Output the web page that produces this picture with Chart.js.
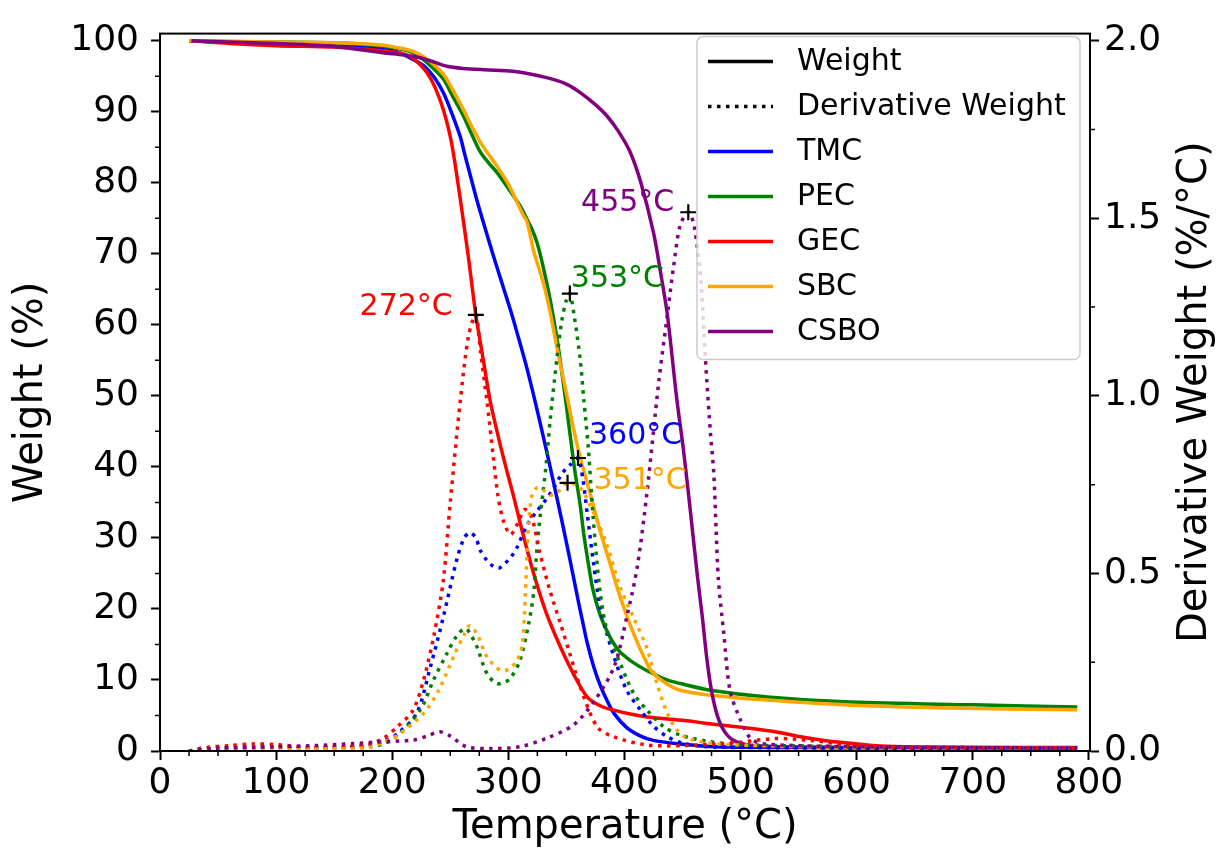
<!DOCTYPE html>
<html>
<head>
<meta charset="utf-8">
<script src="https://cdn.jsdelivr.net/npm/chart.js@4.4.0/dist/chart.umd.min.js"></script>
<style>html,body{margin:0;padding:0;background:#fff}canvas{display:block}</style>
</head>
<body>
<canvas id="c" width="1222" height="855"></canvas>
<script>
// ---------- DATA ----------
const seriesNames = ['TMC', 'PEC', 'GEC', 'SBC', 'CSBO'];
const seriesColors = ['#0000ff', '#008000', '#ff0000', '#ffa500', '#800080'];
const legendExtraLabels = ['Weight', 'Derivative Weight'];

// Weight (%) vs temperature (°C)
const tmcWT = [25, 60, 100, 150, 190, 205, 215, 227, 236, 244, 252, 258.6, 262, 267, 272, 276, 282, 287, 292, 296, 302, 307.5, 316, 324.7, 333, 339, 346, 353, 360, 364, 368, 373.5, 379, 385, 391, 402, 414, 425, 448, 480, 550, 650, 790];
const tmcW  = [100, 99.8, 99.6, 99.4, 98.9, 98.4, 97.6, 96.5, 94.9, 92.7, 89.5, 86.5, 84.3, 81.2, 78.1, 75.8, 72.5, 69.8, 67.2, 65.1, 62.0, 58.9, 53.9, 48.1, 42.2, 37.8, 32.5, 27.0, 21.3, 18.2, 15.2, 11.9, 9.3, 7.1, 5.3, 3.3, 2.1, 1.5, 1.0, 0.6, 0.5, 0.45, 0.45];

const pecWT = [25, 60, 100, 150, 190, 205, 218, 230, 244, 252, 261, 268, 276, 283, 290, 300, 310, 316, 320, 324.7, 330, 336, 342, 346, 350, 353, 357, 362, 365, 369, 373, 379, 385, 390.5, 396.5, 408, 419.5, 436.8, 448, 474, 523, 595, 700, 790];
const pecW  = [100, 99.9, 99.8, 99.7, 99.3, 98.9, 98.3, 96.9, 94.6, 92.2, 89.5, 87.0, 84.3, 82.8, 81.5, 79.2, 76.8, 74.9, 73.6, 71.6, 68.2, 63.6, 58.0, 53.4, 48.6, 44.8, 39.8, 34.5, 30.5, 26.3, 22.6, 19.2, 16.9, 15.2, 13.9, 12.4, 11.3, 10.0, 9.5, 8.55, 7.6, 6.9, 6.5, 6.2];

const gecWT = [25, 60, 100, 150, 190, 205, 215, 223, 230, 237, 244, 251, 258.6, 265.8, 272, 278, 284.5, 292, 298, 304, 313, 322, 333, 345, 356, 368, 380, 391, 405, 419.5, 448, 483, 508, 530, 552, 575, 595, 620, 650, 700, 790];
const gecW  = [100, 99.6, 99.3, 99.1, 98.6, 98.3, 97.8, 96.8, 95.5, 93.4, 90.3, 85.7, 77.7, 69.3, 61.4, 55.5, 49.2, 43.8, 39.9, 36.2, 30.3, 24.9, 19.3, 14.6, 10.9, 7.6, 6.3, 5.75, 5.2, 4.8, 4.35, 3.65, 3.2, 2.7, 2.0, 1.4, 1.1, 0.7, 0.55, 0.5, 0.45];

const sbcWT = [25, 60, 100, 150, 190, 205, 218, 230, 244, 252, 261, 268, 276, 283, 290, 300, 313, 316, 322, 330, 336, 342, 349, 356, 362, 370.7, 379, 388, 396.5, 408, 419.5, 425, 436, 448, 474, 520, 595, 700, 790];
const sbcW  = [100, 99.9, 99.8, 99.7, 99.4, 99.0, 98.5, 97.4, 95.3, 93.1, 90.4, 88.1, 85.7, 84.0, 82.4, 79.8, 75.4, 74.6, 70.3, 66, 61.8, 56.7, 51.2, 45.5, 41.3, 36.1, 31, 26.2, 21.6, 16.5, 12.3, 10.9, 9.5, 8.55, 7.85, 7.2, 6.45, 6.0, 5.8];

const csboWT = [27, 60, 100, 150, 192, 210, 224, 236, 247, 261, 280, 304, 333, 350, 362, 375, 385, 395, 405, 414, 425, 431, 437, 445, 451, 457, 462.6, 467, 471, 475, 480, 486, 494, 508.6, 550, 650, 790];
const csboW  = [100, 99.8, 99.6, 99.2, 98.3, 98.0, 97.6, 97.0, 96.4, 96.1, 95.9, 95.7, 94.8, 93.9, 92.7, 91.0, 89.4, 87.2, 84.3, 80.1, 73.0, 67.5, 61.4, 49.7, 42.2, 33.5, 25.0, 19.0, 13.0, 8.5, 5.0, 2.8, 1.5, 0.8, 0.55, 0.5, 0.5];

// Derivative weight (%/°C) vs temperature (°C)
const tmcDT = [25, 50, 100, 150, 180, 192.5, 205, 221, 232.8, 244, 255.7, 262, 267, 272, 276, 282, 287, 292, 296, 302, 307.5, 316, 324.7, 333, 339, 346, 353, 360, 364, 368, 373.5, 379, 385, 391, 402, 414, 425, 437, 450, 470, 500, 600, 790];
const tmcD  = [0.0, 0.008, 0.01, 0.008, 0.015, 0.027, 0.05, 0.106, 0.236, 0.377, 0.54, 0.6, 0.615, 0.6, 0.564, 0.535, 0.52, 0.515, 0.525, 0.545, 0.573, 0.635, 0.676, 0.71, 0.74, 0.78, 0.805, 0.825, 0.77, 0.667, 0.526, 0.405, 0.33, 0.265, 0.171, 0.115, 0.07, 0.04, 0.022, 0.012, 0.01, 0.008, 0.006];

const pecDT = [25, 50, 100, 150, 180, 192.5, 205, 224, 235.6, 247, 255.7, 263, 268, 273, 281.6, 290, 296, 301.7, 310, 317.5, 322, 324.7, 327.6, 330, 333, 336, 342, 346, 350, 353, 357, 362, 365, 369, 373, 379, 385, 396.5, 408, 419.5, 434, 448, 474, 500, 600, 790];
const pecD  = [0.0, 0.008, 0.012, 0.01, 0.012, 0.02, 0.045, 0.115, 0.2, 0.274, 0.325, 0.345, 0.325, 0.293, 0.218, 0.19, 0.193, 0.204, 0.255, 0.358, 0.45, 0.573, 0.667, 0.73, 0.82, 0.93, 1.11, 1.21, 1.27, 1.288, 1.22, 1.1, 0.99, 0.85, 0.66, 0.45, 0.34, 0.246, 0.162, 0.115, 0.068, 0.045, 0.026, 0.018, 0.012, 0.008];

const gecDT = [25, 40, 60, 80, 100, 130, 160, 180, 192.5, 205, 218, 227, 235.6, 244, 250, 258.6, 265.8, 272, 276, 281.6, 287, 291, 296, 302, 308, 314, 320, 327, 336, 345, 353, 362, 376.5, 390.8, 419.5, 450, 480, 500, 530, 560, 600, 650, 790];
const gecD  = [0.0, 0.01, 0.015, 0.02, 0.018, 0.01, 0.012, 0.02, 0.036, 0.07, 0.115, 0.2, 0.32, 0.48, 0.7, 0.985, 1.17, 1.228, 1.125, 0.985, 0.83, 0.72, 0.645, 0.61, 0.64, 0.68, 0.66, 0.56, 0.45, 0.358, 0.274, 0.18, 0.068, 0.04, 0.017, 0.015, 0.02, 0.025, 0.035, 0.03, 0.015, 0.01, 0.008];

const sbcDT = [25, 50, 100, 150, 180, 192.5, 205, 227, 240, 254, 261.5, 266.7, 273, 281.6, 293, 300, 307.5, 312, 314.7, 316, 317.5, 320.4, 325, 330, 336, 343, 351, 362, 373.6, 385, 396.5, 408, 419.5, 428, 437, 445, 455, 480, 520, 600, 790];
const sbcD  = [0.0, 0.005, 0.008, 0.006, 0.01, 0.025, 0.045, 0.106, 0.171, 0.274, 0.325, 0.353, 0.33, 0.265, 0.227, 0.23, 0.255, 0.3, 0.44, 0.55, 0.64, 0.72, 0.742, 0.735, 0.72, 0.73, 0.755, 0.74, 0.67, 0.58, 0.46, 0.375, 0.288, 0.19, 0.106, 0.06, 0.035, 0.02, 0.015, 0.01, 0.008];

const csboDT = [25, 50, 80, 100, 132, 166, 192, 218, 230, 241, 250, 264, 284.5, 310, 333, 356, 373.5, 391, 402, 411, 419.5, 429.6, 437, 442.5, 448, 455, 460, 466, 468.4, 471, 474, 477, 479, 481, 485.6, 491, 500, 508.6, 520, 600, 790];
const csboD  = [0.0, 0.008, 0.01, 0.012, 0.015, 0.021, 0.026, 0.031, 0.042, 0.054, 0.042, 0.012, 0.007, 0.012, 0.036, 0.073, 0.138, 0.236, 0.377, 0.517, 0.73, 1.04, 1.228, 1.368, 1.48, 1.517, 1.48, 1.32, 1.18, 1.04, 0.9, 0.78, 0.62, 0.48, 0.33, 0.17, 0.087, 0.036, 0.02, 0.012, 0.008];

// Peak markers (derivative maxima)
const peakTemps  = [360, 353, 272, 351, 455];
const peakDeriv  = [0.825, 1.288, 1.228, 0.755, 1.517];
const peakLabels = ['360°C', '353°C', '272°C', '351°C', '455°C'];

// Axis ticks
const xTicks = [0, 100, 200, 300, 400, 500, 600, 700, 800];
const yTicks = [0, 10, 20, 30, 40, 50, 60, 70, 80, 90, 100];
const y2Ticks = [0, 0.5, 1.0, 1.5, 2.0];
const y2TickLabels = ['0.0', '0.5', '1.0', '1.5', '2.0'];

// ---------- STYLE ----------
const FONT = "'DejaVu Sans', sans-serif";
const LW = 3.5;
const DOTS = [3.5, 5.5];
const labelPlacement = [
  {dx: 11, dy: -14, align: 'left'},
  {dx: 1, dy: -7, align: 'left'},
  {dx: -23, dy: 0, align: 'right'},
  {dx: 26, dy: 6, align: 'left'},
  {dx: -14, dy: -1, align: 'right'}
];

const weightT = [tmcWT, pecWT, gecWT, sbcWT, csboWT];
const weightV = [tmcW, pecW, gecW, sbcW, csboW];
const derivT = [tmcDT, pecDT, gecDT, sbcDT, csboDT];
const derivV = [tmcD, pecD, gecD, sbcD, csboD];
const pts = (T, V) => T.map((t, i) => ({x: t, y: V[i]}));

const datasets = [];
seriesNames.forEach((n, i) => {
  datasets.push({
    label: n + ' Weight', data: pts(weightT[i], weightV[i]), yAxisID: 'y',
    borderColor: seriesColors[i], borderWidth: LW, pointRadius: 0, fill: false,
    tension: 0.3, borderJoinStyle: 'round', order: 100 - i
  });
});
seriesNames.forEach((n, i) => {
  datasets.push({
    label: n + ' Derivative Weight', data: pts(derivT[i], derivV[i]), yAxisID: 'y2',
    borderColor: seriesColors[i], borderWidth: LW, borderDash: DOTS, borderCapStyle: 'butt',
    pointRadius: 0, fill: false, tension: 0.3, order: 50 - i
  });
});
datasets.push({
  type: 'scatter', label: 'Peaks', yAxisID: 'y2',
  data: pts(peakTemps, peakDeriv),
  pointStyle: 'cross', pointRadius: 8, borderColor: '#000', borderWidth: 2.2, order: 0
});

function minorTicks(ctx, scale, from, to, step, skip, orient, ca) {
  ctx.beginPath();
  for (let v = from; v <= to + 1e-9; v += step) {
    if (Math.abs(v / skip - Math.round(v / skip)) < 1e-6) continue;
    const p = scale.getPixelForValue(v);
    if (orient === 'bottom') { ctx.moveTo(p, ca.bottom); ctx.lineTo(p, ca.bottom + 5); }
    else if (orient === 'left') { ctx.moveTo(ca.left, p); ctx.lineTo(ca.left - 5, p); }
    else { ctx.moveTo(ca.right, p); ctx.lineTo(ca.right + 5, p); }
  }
  ctx.stroke();
}

function roundRect(ctx, x, y, w, h, r) {
  ctx.beginPath();
  ctx.moveTo(x + r, y);
  ctx.lineTo(x + w - r, y); ctx.arcTo(x + w, y, x + w, y + r, r);
  ctx.lineTo(x + w, y + h - r); ctx.arcTo(x + w, y + h, x + w - r, y + h, r);
  ctx.lineTo(x + r, y + h); ctx.arcTo(x, y + h, x, y + h - r, r);
  ctx.lineTo(x, y + r); ctx.arcTo(x, y, x + r, y, r);
  ctx.closePath();
}

const decorPlugin = {
  id: 'decor',
  afterDraw(chart) {
    const {ctx, chartArea: ca, scales} = chart;
    ctx.save();
    // frame
    ctx.strokeStyle = '#000'; ctx.lineWidth = 2;
    ctx.strokeRect(ca.left, ca.top, ca.right - ca.left, ca.bottom - ca.top);
    // minor ticks
    ctx.lineWidth = 1.5;
    minorTicks(ctx, scales.x, 0, 800, 25, 100, 'bottom', ca);
    minorTicks(ctx, scales.y, 0, 100, 5, 10, 'left', ca);
    minorTicks(ctx, scales.y2, 0, 2, 0.25, 0.5, 'right', ca);
    // right axis title (reads bottom to top)
    ctx.fillStyle = '#000';
    ctx.font = '40px ' + FONT;
    ctx.textAlign = 'center'; ctx.textBaseline = 'middle';
    ctx.translate(1196, (ca.top + ca.bottom) / 2);
    ctx.rotate(-Math.PI / 2);
    ctx.fillText('Derivative Weight (%/°C)', 0, 0);
    ctx.restore();

    // peak annotations
    ctx.save();
    ctx.font = '30px ' + FONT;
    ctx.textBaseline = 'alphabetic';
    peakLabels.forEach((lab, i) => {
      const px = scales.x.getPixelForValue(peakTemps[i]);
      const py = scales.y2.getPixelForValue(peakDeriv[i]);
      const pl = labelPlacement[i];
      ctx.fillStyle = seriesColors[i];
      ctx.textAlign = pl.align;
      ctx.fillText(lab, px + pl.dx, py + pl.dy);
    });
    ctx.restore();

    // legend
    ctx.save();
    const bw = 383, bh = 323;
    const bx = ca.right - 10 - bw, by = ca.top + 3;
    roundRect(ctx, bx, by, bw, bh, 6);
    ctx.fillStyle = 'rgba(255,255,255,0.8)'; ctx.fill();
    ctx.strokeStyle = '#cccccc'; ctx.lineWidth = 1.5; ctx.stroke();
    const items = [
      {label: legendExtraLabels[0], color: '#000', dash: []},
      {label: legendExtraLabels[1], color: '#000', dash: DOTS}
    ].concat(seriesNames.map((n, i) => ({label: n, color: seriesColors[i], dash: []})));
    ctx.font = '30px ' + FONT;
    ctx.textAlign = 'left'; ctx.textBaseline = 'middle';
    items.forEach((it, k) => {
      const y = by + 25 + k * 45;
      ctx.beginPath();
      ctx.setLineDash(it.dash);
      ctx.lineCap = 'butt';
      ctx.strokeStyle = it.color; ctx.lineWidth = LW;
      ctx.moveTo(bx + 11, y); ctx.lineTo(bx + 76, y); ctx.stroke();
      ctx.setLineDash([]);
      ctx.fillStyle = '#000';
      ctx.fillText(it.label, bx + 100, y + 1);
    });
    ctx.restore();
  }
};

const tickFont = {family: FONT, size: 36};
const gridCfg = {drawOnChartArea: false, drawTicks: true, tickLength: 9, tickWidth: 2, tickColor: '#000'};
const borderCfg = {display: true, color: '#000', width: 2};

new Chart(document.getElementById('c'), {
  type: 'line',
  data: {datasets},
  options: {
    responsive: false,
    animation: false,
    devicePixelRatio: 1,
    layout: {padding: {top: 32, left: 0, right: 0, bottom: 0}},
    plugins: {legend: {display: false}, tooltip: {enabled: false}},
    scales: {
      x: {
        type: 'linear', position: 'bottom', min: 0, max: 801,
        afterBuildTicks: s => { s.ticks = xTicks.map(v => ({value: v})); },
        afterFit: s => { s.height = 104; },
        ticks: {font: tickFont, color: '#000', padding: 2, maxRotation: 0, autoSkip: false,
                callback: v => String(v)},
        grid: gridCfg, border: borderCfg,
        title: {display: true, text: 'Temperature (°C)', color: '#000',
                font: {family: FONT, size: 40}, padding: {top: 0, bottom: 3}}
      },
      y: {
        type: 'linear', position: 'left', min: 0, max: 101,
        afterBuildTicks: s => { s.ticks = yTicks.map(v => ({value: v})); },
        afterFit: s => { s.width = 160; },
        ticks: {font: tickFont, color: '#000', padding: 12, autoSkip: false, callback: v => String(v)},
        grid: gridCfg, border: borderCfg,
        title: {display: true, text: 'Weight (%)', color: '#000',
                font: {family: FONT, size: 40}, padding: {top: 8, bottom: 0}}
      },
      y2: {
        type: 'linear', position: 'right', min: 0, max: 2.02,
        afterBuildTicks: s => { s.ticks = y2Ticks.map(v => ({value: v})); },
        afterFit: s => { s.width = 132; },
        ticks: {font: tickFont, color: '#000', padding: 5, autoSkip: false,
                callback: (v) => { const k = y2Ticks.findIndex(t => Math.abs(t - v) < 1e-9); return k >= 0 ? y2TickLabels[k] : ''; }},
        grid: gridCfg, border: borderCfg,
        title: {display: false}
      }
    }
  },
  plugins: [decorPlugin]
});
</script>
</body>
</html>
